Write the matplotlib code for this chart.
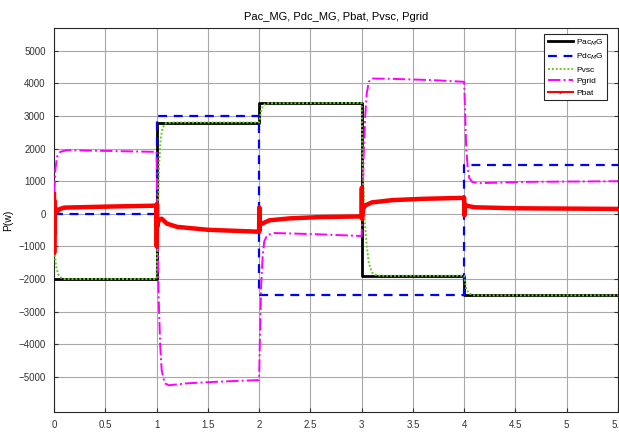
import numpy as np
import matplotlib
matplotlib.use("Agg")
import matplotlib.pyplot as plt

plt.rcParams["font.family"] = ["Liberation Sans", "DejaVu Sans"]

# Pac_MG (step)
t_ac = [0, 1, 1, 2, 2, 3, 3, 4, 4, 5.5]
p_ac = [-2000, -2000, 2800, 2800, 3400, 3400, -1900, -1900, -2500, -2500]

# Pdc_MG (step)
t_dc = [0, 1, 1, 2, 2, 4, 4, 5.5]
p_dc = [0, 0, 3000, 3000, -2500, -2500, 1500, 1500]

# Pvsc
t_vsc = [0, 0.01, 0.02, 0.04, 0.07, 0.1, 1.0,
         1.015, 1.025, 1.04, 1.06, 1.09, 1.15, 2.0,
         2.02, 2.04, 2.07, 3.0,
         3.01, 3.03, 3.05, 3.07, 3.1, 3.15, 4.0,
         4.02, 4.05, 4.1, 5.5]
p_vsc = [-900, -1300, -1600, -1850, -1960, -2000, -2000,
         0, 1500, 2300, 2650, 2780, 2800, 2800,
         3150, 3330, 3390, 3400,
         1500, -200, -1000, -1500, -1800, -1900, -1900,
         -2300, -2450, -2500, -2500]

# Pgrid
t_grid = [0, 0.005, 0.015, 0.03, 0.06, 0.12, 0.5, 1.0,
          1.01, 1.02, 1.035, 1.05, 1.08, 1.12, 1.3, 1.6, 2.0,
          2.01, 2.02, 2.035, 2.05, 2.08, 2.15, 2.5, 3.0,
          3.01, 3.02, 3.035, 3.05, 3.07, 3.1, 3.3, 3.7, 4.0,
          4.01, 4.02, 4.035, 4.05, 4.08, 4.15, 4.6, 5.5]
p_grid = [0, 800, 1400, 1750, 1900, 1950, 1930, 1900,
          -500, -2500, -4000, -4800, -5200, -5260, -5200, -5150, -5100,
          -3500, -2200, -1300, -850, -650, -590, -620, -680,
          500, 1800, 3000, 3700, 4050, 4150, 4140, 4100, 4050,
          3000, 2000, 1400, 1100, 970, 940, 980, 1000]

# Pbat
t_bat = [0, 0.002, 0.004, 0.006, 0.01, 0.03, 0.06, 0.1, 0.5, 1.0,
         1.002, 1.004, 1.006, 1.02, 1.05, 1.1, 1.2, 1.5, 2.0,
         2.002, 2.004, 2.01, 2.03, 2.1, 2.3, 2.6, 3.0,
         3.002, 3.004, 3.01, 3.03, 3.1, 3.3, 3.6, 4.0,
         4.002, 4.004, 4.02, 4.1, 4.5, 5.5]
p_bat = [600, -1200, 400, -600, 200, 80, 150, 190, 220, 250,
         -1000, 300, -400, -200, -150, -300, -400, -490, -550,
         200, -500, -250, -300, -200, -140, -100, -80,
         800, -150, 100, 250, 350, 420, 460, 490,
         -50, 300, 250, 200, 170, 150]

xticks = np.arange(0, 5.51, 0.5)
xtick_labels = ["0", "0.5", "1", "1.5", "2", "2.5", "3", "3.5", "4", "4.5", "5", "5.5"]
yticks = np.arange(-5000, 5001, 1000)

fig = plt.figure(figsize=(6.19, 4.34), dpi=100)
ax = fig.add_axes([54 / 619, 1 - 412 / 434, (618 - 54) / 619, (412 - 28) / 434])

ax.plot(t_ac, p_ac, color="black", lw=2, label="Pac$_M$G", zorder=3)
ax.plot(t_dc, p_dc, color="blue", lw=1.6, ls=(0, (4, 3)), label="Pdc$_M$G", zorder=3)
ax.plot(t_vsc, p_vsc, color="#66cc22", lw=1.4, ls=(0, (1, 1)), label="Pvsc", zorder=4)
ax.plot(t_grid, p_grid, color="magenta", lw=1.4, ls="-.", label="Pgrid", zorder=3)
ax.plot(t_bat, p_bat, color="red", lw=3.2, marker=".", markersize=2,
        label="Pbat", zorder=5)

ax.set_xlim(0, 5.5)
ax.set_ylim(-6080, 5700)
ax.set_xticks(xticks)
ax.set_xticklabels(xtick_labels)
ax.set_yticks(yticks)
ax.tick_params(direction="in", labelsize=7, colors="#333333", length=3,
               top=False, right=True, pad=6)
ax.grid(True, color="#a8a8a8", lw=0.8)
for s in ax.spines.values():
    s.set_color("#262626")
    s.set_linewidth(0.8)

ax.set_title("Pac_MG, Pdc_MG, Pbat, Pvsc, Pgrid", fontsize=8, pad=6)
ax.set_xlabel("time(s)", fontsize=7.5, labelpad=3)
ax.set_ylabel("P(w)", fontsize=7.5, labelpad=4)

leg = ax.legend(loc="upper right", bbox_to_anchor=(607 / 619, 1 - 34 / 434),
                bbox_transform=fig.transFigure, borderaxespad=0, fontsize=6,
                fancybox=False, framealpha=1, edgecolor="#262626",
                handlelength=3, labelspacing=0.45, borderpad=0.4,
                handletextpad=0.4)
leg.get_frame().set_linewidth(0.8)
for line in leg.get_lines():
    if line.get_label() == "Pbat":
        line.set_linewidth(1.5)

fig.savefig("out.png", dpi=100)
